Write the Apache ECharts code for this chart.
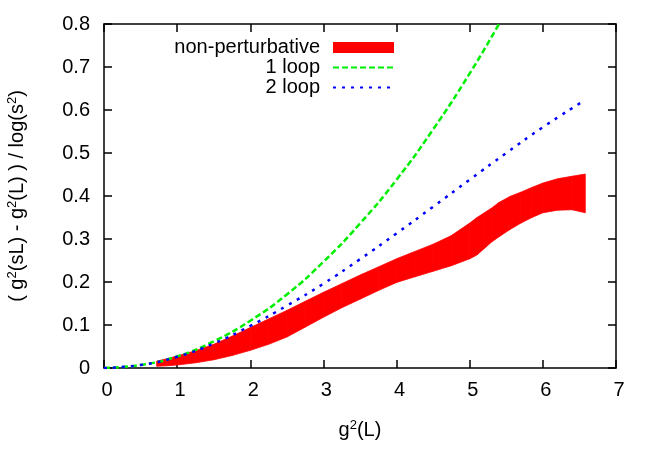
<!DOCTYPE html>
<html>
<head>
<meta charset="utf-8">
<script src="https://cdn.jsdelivr.net/npm/echarts@6/dist/echarts.min.js"></script>
<style>
  html, body { margin: 0; padding: 0; background: #fff; }
  #chart { width: 654px; height: 457px; }
</style>
</head>
<body>
<div id="chart"></div>
<script>
// 1 loop curve
const loop1X = [0, 0.5, 1, 1.5, 2, 2.5, 3, 3.5, 4, 4.5, 5, 5.4];
const loop1Y = [0, 0.007, 0.027, 0.062, 0.11, 0.171, 0.247, 0.336, 0.438, 0.555, 0.685, 0.8];

// 2 loop curve
const loop2X = [0, 0.5, 1, 1.5, 2, 2.5, 3, 3.5, 4, 4.5, 5, 5.5, 6, 6.53];
const loop2Y = [0, 0.007, 0.026, 0.057, 0.098, 0.145, 0.196, 0.253, 0.313, 0.375, 0.438, 0.5, 0.56, 0.618];

// non-perturbative band (lower / upper edge)
const bandX = [0.72, 0.85, 1.0, 1.25, 1.5, 1.75, 2.0, 2.25, 2.5, 2.75, 3.0, 3.25, 3.5, 3.75, 4.0,
  4.25, 4.5, 4.75, 5.0, 5.1, 5.2, 5.3, 5.4, 5.55, 5.7, 5.85, 6.0, 6.2, 6.4, 6.58];
const bandLo = [0.004, 0.005, 0.007, 0.012, 0.019, 0.029, 0.041, 0.055, 0.072, 0.095, 0.118, 0.14, 0.16, 0.18, 0.199,
  0.212, 0.225, 0.238, 0.254, 0.263, 0.278, 0.293, 0.305, 0.322, 0.337, 0.35, 0.361, 0.367, 0.368, 0.361];
const bandHi = [0.016, 0.021, 0.028, 0.040, 0.055, 0.074, 0.094, 0.114, 0.134, 0.155, 0.176, 0.196, 0.216, 0.235, 0.254,
  0.271, 0.288, 0.308, 0.337, 0.350, 0.361, 0.372, 0.385, 0.399, 0.409, 0.42, 0.430, 0.44, 0.446, 0.451];

const xTicks = [0, 1, 2, 3, 4, 5, 6, 7];
const yTicks = [0, 0.1, 0.2, 0.3, 0.4, 0.5, 0.6, 0.7, 0.8];

const FONT = 'Liberation Sans';
const pairs = (xs, ys) => xs.map((x, i) => [x, ys[i]]);

const chart = echarts.init(document.getElementById('chart'), null, { renderer: 'canvas' });

const axisLine = { show: true, onZero: false, lineStyle: { color: '#000', width: 1.5 } };
const tick = { show: true, inside: true, length: 8, lineStyle: { color: '#000', width: 1.5 } };
const rich = {
  a: { fontSize: 20, fontFamily: FONT, color: '#000' },
  s: { fontSize: 13, fontFamily: FONT, color: '#000', verticalAlign: 'top', padding: [0, 0, 9, 0] }
};

// band drawn as one quad per segment between consecutive samples
function renderBand(params, api) {
  const i = params.dataIndex;
  if (i >= bandX.length - 1) return null;
  const a = api.coord([bandX[i], bandLo[i]]);
  const b = api.coord([bandX[i + 1], bandLo[i + 1]]);
  const c = api.coord([bandX[i + 1], bandHi[i + 1]]);
  const d = api.coord([bandX[i], bandHi[i]]);
  return {
    type: 'polygon',
    shape: { points: [a, b, c, d] },
    style: { fill: '#ff0000', stroke: '#ff0000', lineWidth: 0.8 }
  };
}

const option = {
  animation: false,
  backgroundColor: '#fff',
  textStyle: { fontFamily: FONT },
  grid: { left: 104, right: 38, top: 24, bottom: 89, containLabel: false, outerBoundsMode: 'none' },
  legend: {
    orient: 'vertical',
    right: 254,
    top: 32,
    align: 'right',
    itemWidth: 61,
    itemHeight: 11,
    itemGap: -1,
    textStyle: { fontSize: 20, lineHeight: 21, fontFamily: FONT, color: '#000', padding: [0, 8, 0, 0] },
    data: [
      { name: 'non-perturbative', icon: 'rect', itemStyle: { color: '#ff0000' } },
      { name: '1 loop', itemStyle: { opacity: 0 } },
      { name: '2 loop', itemStyle: { opacity: 0 } }
    ]
  },
  xAxis: [
    {
      type: 'value', min: 0, max: 7, interval: 1, position: 'bottom',
      axisLine, axisTick: tick, splitLine: { show: false },
      axisLabel: { fontSize: 20, fontFamily: FONT, color: '#000', margin: 12,
        padding: [0, 0, 0, 6], customValues: xTicks },
      name: '{a|g}{s|2}{a|(L)}',
      nameLocation: 'middle', nameGap: 51,
      nameTextStyle: { rich }
    },
    {
      type: 'value', min: 0, max: 7, interval: 1, position: 'top',
      axisLine, axisTick: tick, axisLabel: { show: false }, splitLine: { show: false }
    }
  ],
  yAxis: [
    {
      type: 'value', min: 0, max: 0.8, interval: 0.1, position: 'left',
      axisLine, axisTick: tick, splitLine: { show: false },
      axisLabel: { fontSize: 20, fontFamily: FONT, color: '#000', margin: 14,
        customValues: yTicks },
      name: '{a|( g}{s|2}{a|(sL) - g}{s|2}{a|(L) ) / log(s}{s|2}{a|)}',
      nameLocation: 'middle', nameGap: 76, nameRotate: 90,
      nameTextStyle: { rich }
    },
    {
      type: 'value', min: 0, max: 0.8, interval: 0.1, position: 'right',
      axisLine, axisTick: tick, axisLabel: { show: false }, splitLine: { show: false }
    }
  ],
  series: [
    {
      name: 'non-perturbative',
      type: 'custom',
      renderItem: renderBand,
      itemStyle: { color: '#ff0000' },
      clip: true,
      encode: { x: 0, y: 1 },
      data: pairs(bandX, bandHi)
    },
    {
      name: '1 loop',
      type: 'line',
      symbol: 'none',
      smooth: true,
      itemStyle: { color: '#00ee00' },
      lineStyle: { color: '#00ee00', width: 2.5, type: [6, 3] },
      data: pairs(loop1X, loop1Y)
    },
    {
      name: '2 loop',
      type: 'line',
      symbol: 'none',
      smooth: true,
      itemStyle: { color: '#0000ff' },
      lineStyle: { color: '#0000ff', width: 2.5, type: [3, 6] },
      data: pairs(loop2X, loop2Y)
    }
  ]
};

chart.setOption(option);
</script>
</body>
</html>
